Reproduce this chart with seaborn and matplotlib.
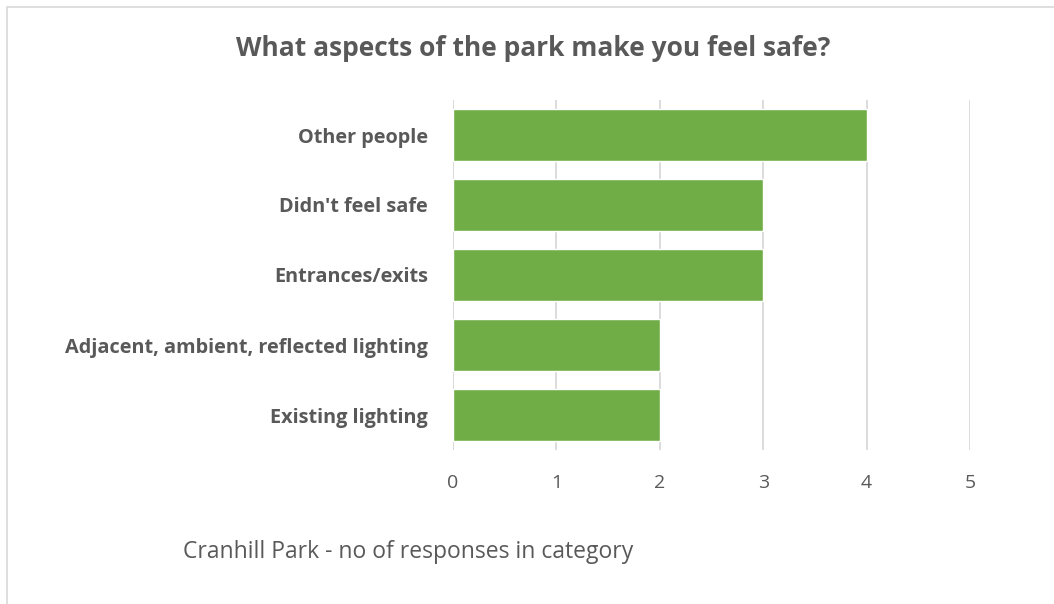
import matplotlib
matplotlib.use("Agg")
import matplotlib.pyplot as plt
import seaborn as sns
import pandas as pd
from matplotlib.patches import Rectangle

# Survey responses, listed top to bottom
categories = [
    "Other people",
    "Didn't feel safe",
    "Entrances/exits",
    "Adjacent, ambient, reflected lighting",
    "Existing lighting",
]
responses = [4, 3, 3, 2, 2]
x_ticks = [0, 1, 2, 3, 4, 5]

title = "What aspects of the park make you feel safe?"
axis_title = "Cranhill Park - no of responses in category"

df = pd.DataFrame({"category": categories, "responses": responses})

sns.set_theme(style="white")
plt.rcParams["font.family"] = ["Open Sans", "DejaVu Sans"]

W, H = 1054, 604
fig = plt.figure(figsize=(W / 100, H / 100), dpi=100)
fig.patch.set_facecolor("white")

# light chart frame
fig.patches.append(Rectangle((7 / W, -0.1), 1.2, (H - 7) / H + 0.1,
                             transform=fig.transFigure, fill=False,
                             edgecolor="#D9D9D9", linewidth=1.2))

text_color = "#595959"
grid_color = "#D9D9D9"

ax = fig.add_axes([453 / W, 1 - 450 / H, (970 - 453) / W, 350 / H])
sns.barplot(data=df, x="responses", y="category", orient="h",
            color="#70AD47", saturation=1, width=0.74, ax=ax, zorder=3)

ax.set_xlim(0, 5)
ax.set_xticks(x_ticks)
ax.set_xticklabels([str(t) for t in x_ticks])
ax.xaxis.grid(True, color=grid_color, linewidth=1.3, zorder=0)
ax.set_axisbelow(True)
for s in ax.spines.values():
    s.set_visible(False)
ax.axvline(0, color=grid_color, linewidth=1.3, zorder=1)

ax.tick_params(axis="x", length=0, pad=17, labelsize=14, labelcolor=text_color)
ax.tick_params(axis="y", length=0, pad=18, labelcolor=text_color)
for lbl in ax.get_yticklabels():
    lbl.set_fontweight("bold")
    lbl.set_fontsize(14.3)
ax.set_xlabel("")
ax.set_ylabel("")

fig.text(533 / W, 1 - 48 / H, title, ha="center", va="center",
         fontsize=19, fontweight="bold", color=text_color)
fig.text(183 / W, 1 - 552 / H, axis_title, ha="left", va="center",
         fontsize=16.5, color=text_color)

fig.savefig("out.png", dpi=100, facecolor="white")
